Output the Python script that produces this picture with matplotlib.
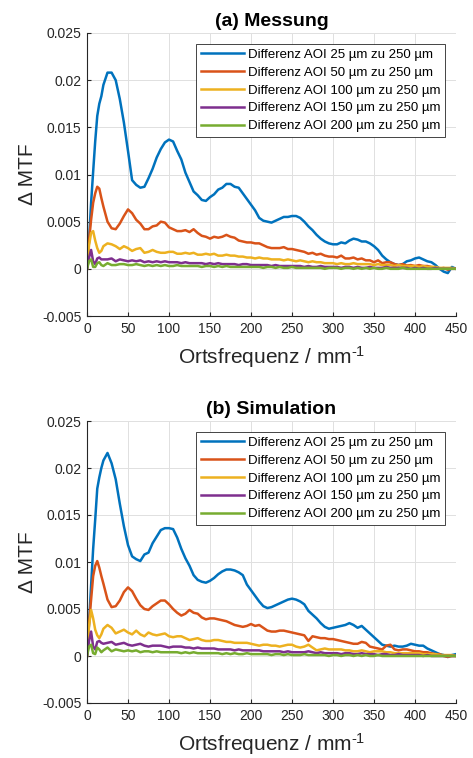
import matplotlib
matplotlib.use("Agg")
import matplotlib.pyplot as plt
import numpy as np

plt.rcParams['font.family'] = ['Liberation Sans', 'DejaVu Sans']
plt.rcParams['mathtext.fontset'] = 'custom'
plt.rcParams['mathtext.rm'] = 'Liberation Sans'
plt.rcParams['mathtext.it'] = 'Liberation Sans:italic'
plt.rcParams['mathtext.default'] = 'regular'

# spatial frequency (1/mm)
freq = [0, 2.5, 5, 7.5, 10, 12.5, 15, 17.5] + list(range(20, 455, 5))

labels = ["Differenz AOI 25 µm zu 250 µm",
          "Differenz AOI 50 µm zu 250 µm",
          "Differenz AOI 100 µm zu 250 µm",
          "Differenz AOI 150 µm zu 250 µm",
          "Differenz AOI 200 µm zu 250 µm"]
colors = ["#0072BD", "#D95319", "#EDB120", "#7E2F8E", "#77AC30"]

# values in units of 1e-3
# (a) Messung
meas_25 = [0, 3.0, 7.0, 10.3, 13.5, 16.2, 17.5, 18.3,
           19.5, 20.8, 20.8, 20.0, 18.0, 15.5, 12.5, 9.4, 8.9, 8.6,
           8.7, 9.6, 10.6, 11.8, 12.7, 13.4, 13.7, 13.5, 12.5, 11.6,
           10.2, 9.2, 8.2, 7.8, 7.3, 7.2, 7.6, 7.9, 8.4, 8.6,
           9.0, 9.0, 8.7, 8.6, 8.0, 7.4, 6.8, 6.2, 5.4, 5.1,
           5.0, 4.9, 5.1, 5.3, 5.5, 5.5, 5.6, 5.6, 5.4, 5.0,
           4.5, 4.1, 3.6, 3.2, 2.9, 2.7, 2.6, 2.6, 2.8, 2.7,
           3.0, 3.2, 3.1, 2.9, 2.9, 2.7, 2.4, 2.0, 1.4, 1.0,
           0.7, 0.5, 0.4, 0.5, 0.8, 0.9, 1.1, 1.2, 1.0, 0.8,
           0.7, 0.4, 0.0, -0.3, -0.45, 0.2, 0.0]
meas_50 = [0, 3.0, 5.2, 7.0, 8.0, 8.7, 8.5, 7.5,
           6.6, 5.0, 4.3, 4.2, 4.8, 5.6, 6.3, 5.9, 5.2, 4.8,
           4.2, 4.2, 4.5, 4.6, 5.0, 4.9, 4.4, 4.2, 4.0, 4.0,
           4.1, 3.9, 4.2, 3.8, 3.5, 3.4, 3.2, 3.4, 3.3, 3.4,
           3.6, 3.4, 3.3, 3.0, 2.9, 2.8, 2.8, 2.7, 2.7, 2.5,
           2.3, 2.2, 2.2, 2.2, 2.3, 2.1, 2.1, 2.0, 1.9, 1.8,
           1.6, 1.7, 1.5, 1.6, 1.4, 1.3, 1.3, 1.2, 1.4, 1.1,
           1.1, 1.2, 1.0, 1.1, 0.9, 0.9, 0.7, 0.9, 0.6, 0.7,
           0.7, 0.5, 0.4, 0.5, 0.35, 0.4, 0.3, 0.4, 0.3, 0.3,
           0.2, 0.15, 0.0, 0.1, -0.1, 0.05, 0.0]
meas_100 = [0, 2.5, 3.8, 4.0, 3.0, 2.2, 1.7, 1.9,
            2.4, 2.7, 2.6, 2.4, 2.1, 2.4, 2.2, 1.9, 2.1, 2.2,
            1.7, 1.8, 2.0, 1.8, 1.7, 1.7, 1.8, 1.8, 1.6, 1.6,
            1.7, 1.6, 1.7, 1.5, 1.5, 1.6, 1.5, 1.6, 1.4, 1.4,
            1.5, 1.4, 1.4, 1.3, 1.3, 1.2, 1.2, 1.1, 1.2, 1.1,
            1.1, 1.0, 1.0, 1.0, 0.9, 1.0, 0.9, 0.8, 0.9, 0.8,
            0.7, 0.8, 0.7, 0.7, 0.6, 0.6, 0.6, 0.5, 0.6, 0.5,
            0.5, 0.6, 0.5, 0.5, 0.5, 0.5, 0.4, 0.5, 0.4, 0.4,
            0.4, 0.3, 0.4, 0.3, 0.3, 0.3, 0.3, 0.2, 0.3, 0.2,
            0.2, 0.2, 0.1, 0.1, 0.1, 0.1, 0.0]
meas_150 = [0, 1.2, 2.0, 0.8, 0.5, 1.1, 1.2, 1.0,
            1.0, 1.0, 1.1, 0.8, 1.0, 0.9, 0.8, 0.9, 0.8, 0.9,
            0.7, 0.8, 0.7, 0.8, 0.7, 0.8, 0.7, 0.7, 0.7, 0.6,
            0.7, 0.6, 0.6, 0.6, 0.6, 0.5, 0.6, 0.5, 0.6, 0.5,
            0.5, 0.5, 0.5, 0.4, 0.5, 0.5, 0.4, 0.4, 0.4, 0.4,
            0.4, 0.3, 0.4, 0.3, 0.3, 0.3, 0.3, 0.3, 0.3, 0.2,
            0.3, 0.2, 0.2, 0.3, 0.2, 0.2, 0.2, 0.2, 0.1, 0.2,
            0.2, 0.1, 0.2, 0.1, 0.1, 0.2, 0.1, 0.1, 0.1, 0.2,
            0.1, 0.1, 0.1, 0.1, 0.1, 0.0, 0.1, 0.0, 0.1, 0.0,
            0.0, 0.1, 0.0, 0.0, 0.0, 0.0, 0.0]
meas_200 = [0, 0.8, 1.0, 0.2, 0.2, 0.6, 0.7, 0.4,
            0.3, 0.6, 0.4, 0.4, 0.5, 0.5, 0.4, 0.4, 0.5, 0.4,
            0.3, 0.4, 0.3, 0.4, 0.3, 0.4, 0.3, 0.3, 0.4, 0.3,
            0.3, 0.3, 0.3, 0.3, 0.2, 0.3, 0.3, 0.2, 0.3, 0.2,
            0.3, 0.2, 0.2, 0.2, 0.2, 0.2, 0.2, 0.2, 0.2, 0.1,
            0.2, 0.2, 0.1, 0.2, 0.1, 0.1, 0.2, 0.1, 0.1, 0.1,
            0.1, 0.1, 0.1, 0.1, 0.0, 0.1, 0.1, 0.1, 0.0, 0.1,
            0.1, 0.0, 0.1, 0.0, 0.1, 0.0, 0.1, 0.0, 0.0, 0.1,
            0.0, 0.0, 0.0, 0.1, 0.0, 0.0, 0.0, 0.0, 0.0, 0.0,
            0.0, 0.0, 0.0, 0.0, 0.0, 0.0, 0.0]

# (b) Simulation
sim_25 = [0, 3.5, 7.5, 11.4, 14.5, 17.8, 19.0, 20.0,
          20.8, 21.6, 20.5, 18.8, 16.2, 13.8, 11.8, 10.6, 10.3, 10.1,
          10.8, 11.0, 12.0, 12.7, 13.4, 13.6, 13.6, 13.5, 12.6, 11.4,
          10.4, 9.6, 8.6, 8.1, 7.9, 7.8, 8.0, 8.3, 8.7, 9.0,
          9.2, 9.2, 9.1, 8.9, 8.6, 7.6, 7.0, 6.4, 5.8, 5.3,
          5.1, 5.2, 5.4, 5.6, 5.8, 6.0, 6.1, 6.0, 5.8, 5.5,
          4.8, 4.4, 4.0, 3.5, 3.1, 2.9, 3.0, 3.1, 3.2, 3.3,
          3.5, 3.3, 3.0, 3.2, 2.8, 2.4, 2.0, 1.6, 1.2, 1.1,
          1.0, 1.1, 1.0, 1.0, 1.1, 1.3, 1.2, 1.1, 1.1, 0.8,
          0.6, 0.4, 0.2, 0.1, -0.1, 0.1, 0.2]
sim_50 = [0, 3.5, 6.0, 8.5, 9.6, 10.1, 9.4, 8.5,
          7.7, 6.0, 5.2, 5.3, 5.9, 6.8, 7.3, 6.9, 6.1, 5.4,
          5.0, 4.9, 5.3, 5.6, 5.9, 5.9, 5.5, 5.0, 4.6, 4.3,
          4.5, 4.9, 4.6, 4.5, 4.1, 3.9, 4.0, 4.0, 3.9, 3.8,
          3.7, 3.5, 3.3, 3.2, 3.1, 3.2, 3.4, 3.2, 3.3, 3.0,
          2.7, 2.6, 2.6, 2.7, 2.7, 2.6, 2.5, 2.4, 2.3, 2.2,
          1.6, 2.1, 2.0, 1.9, 1.9, 1.8, 1.8, 1.7, 1.6, 1.5,
          1.4, 1.3, 1.3, 1.5, 1.4, 1.0, 0.9, 0.8, 0.7, 1.1,
          1.2, 0.7, 0.6, 0.7, 0.7, 0.6, 0.5, 0.5, 0.4, 0.4,
          0.3, 0.2, 0.2, 0.0, -0.1, 0.0, 0.0]
sim_100 = [0, 3.2, 4.9, 4.0, 2.8, 2.2, 1.9, 2.3,
           2.9, 3.3, 3.0, 2.4, 2.6, 2.8, 2.5, 2.3, 2.7, 2.3,
           2.1, 2.5, 2.3, 2.2, 2.3, 2.4, 2.1, 2.0, 2.1, 2.1,
           1.9, 1.7, 1.8, 1.9, 1.7, 1.6, 1.6, 1.7, 1.7, 1.6,
           1.5, 1.5, 1.4, 1.4, 1.4, 1.4, 1.3, 1.2, 1.1, 1.2,
           1.2, 1.1, 1.1, 1.0, 1.1, 1.2, 1.2, 1.0, 0.9, 1.0,
           1.2, 0.9, 0.6, 0.7, 0.8, 0.7, 0.7, 0.7, 0.7, 0.6,
           0.6, 0.5, 0.5, 0.6, 0.5, 0.4, 0.5, 0.5, 0.5, 0.4,
           0.4, 0.3, 0.3, 0.3, 0.3, 0.3, 0.3, 0.3, 0.2, 0.2,
           0.2, 0.2, 0.1, 0.1, 0.1, 0.1, 0.0]
sim_150 = [0, 1.6, 2.6, 1.0, 0.7, 1.5, 1.6, 1.4,
           1.3, 1.4, 1.5, 1.2, 1.3, 1.4, 1.2, 1.1, 1.2, 1.3,
           1.1, 1.0, 1.1, 1.1, 1.1, 1.0, 0.9, 1.0, 1.0, 1.0,
           0.9, 0.9, 0.8, 0.9, 0.8, 0.8, 0.8, 0.8, 0.7, 0.7,
           0.7, 0.7, 0.6, 0.7, 0.6, 0.6, 0.6, 0.6, 0.6, 0.5,
           0.5, 0.5, 0.5, 0.5, 0.4, 0.5, 0.4, 0.4, 0.4, 0.4,
           0.5, 0.4, 0.3, 0.4, 0.3, 0.3, 0.3, 0.3, 0.2, 0.3,
           0.3, 0.2, 0.2, 0.3, 0.2, 0.2, 0.2, 0.1, 0.2, 0.2,
           0.1, 0.1, 0.2, 0.1, 0.1, 0.1, 0.1, 0.1, 0.0, 0.1,
           0.0, 0.0, 0.0, 0.0, 0.0, 0.0, 0.0]
sim_200 = [0, 1.0, 1.2, 0.3, 0.2, 0.9, 0.7, 0.4,
           0.6, 0.9, 0.5, 0.7, 0.6, 0.5, 0.6, 0.5, 0.6, 0.4,
           0.5, 0.5, 0.4, 0.5, 0.4, 0.4, 0.4, 0.4, 0.4, 0.3,
           0.4, 0.3, 0.4, 0.3, 0.3, 0.3, 0.3, 0.3, 0.3, 0.2,
           0.3, 0.2, 0.3, 0.2, 0.2, 0.3, 0.2, 0.2, 0.2, 0.2,
           0.2, 0.1, 0.2, 0.2, 0.1, 0.2, 0.1, 0.1, 0.1, 0.2,
           0.1, 0.1, 0.1, 0.1, 0.1, 0.0, 0.1, 0.1, 0.0, 0.1,
           0.1, 0.0, 0.1, 0.0, 0.1, 0.0, 0.0, 0.1, 0.0, 0.0,
           0.0, 0.0, 0.0, 0.0, 0.0, 0.0, 0.0, 0.0, 0.0, 0.0,
           0.0, 0.0, 0.0, 0.0, 0.0, 0.0, 0.0]

titles = ["(a) Messung", "(b) Simulation"]
xticks = [0, 50, 100, 150, 200, 250, 300, 350, 400, 450]
yticks = [-0.005, 0, 0.005, 0.01, 0.015, 0.02, 0.025]
ytick_labels = ["-0.005", "0", "0.005", "0.01", "0.015", "0.02", "0.025"]

panels = [[meas_25, meas_50, meas_100, meas_150, meas_200],
          [sim_25, sim_50, sim_100, sim_150, sim_200]]

fig = plt.figure(figsize=(4.73, 7.58), dpi=100)
W, H = 473, 758
rects = [(87, 33, 456, 316), (87, 421, 456, 703)]
axc = "#262626"
for (l, t, r, b), series, title in zip(rects, panels, titles):
    ax = fig.add_axes([l / W, 1 - b / H, (r - l) / W, (b - t) / H])
    for s, c, lab in zip(series, colors, labels):
        assert len(s) == len(freq)
        ax.plot(freq, np.array(s) * 1e-3, color=c, lw=1.8, label=lab)
    ax.set_xlim(0, 450)
    ax.set_ylim(-0.005, 0.025)
    ax.set_xticks(xticks)
    ax.set_yticks(yticks)
    ax.set_yticklabels(ytick_labels)
    ax.grid(True, color="#e0e0e0", lw=0.7)
    ax.set_axisbelow(True)
    for sp in ["top", "right"]:
        ax.spines[sp].set_visible(False)
    for sp in ["left", "bottom"]:
        ax.spines[sp].set_color(axc)
        ax.spines[sp].set_linewidth(0.8)
    ax.tick_params(direction="in", length=3, width=0.8, colors=axc,
                   labelsize=10, labelcolor=axc, pad=4)
    ax.set_title(title, fontsize=14, fontweight="bold", pad=5, color="black")
    ax.set_xlabel("Ortsfrequenz / mm$^{\u20101}$", fontsize=15, color=axc, labelpad=6)
    ax.set_ylabel("Δ MTF", fontsize=15, color=axc, labelpad=4)
    leg = ax.legend(loc="upper right", fontsize=9.5, frameon=True, fancybox=False,
                    framealpha=1, edgecolor="#262626", handlelength=3.25,
                    borderaxespad=0.8, labelspacing=0.42, handletextpad=0.3,
                    borderpad=0.4)
    leg.get_frame().set_linewidth(0.6)

fig.savefig("out.png", dpi=100)
